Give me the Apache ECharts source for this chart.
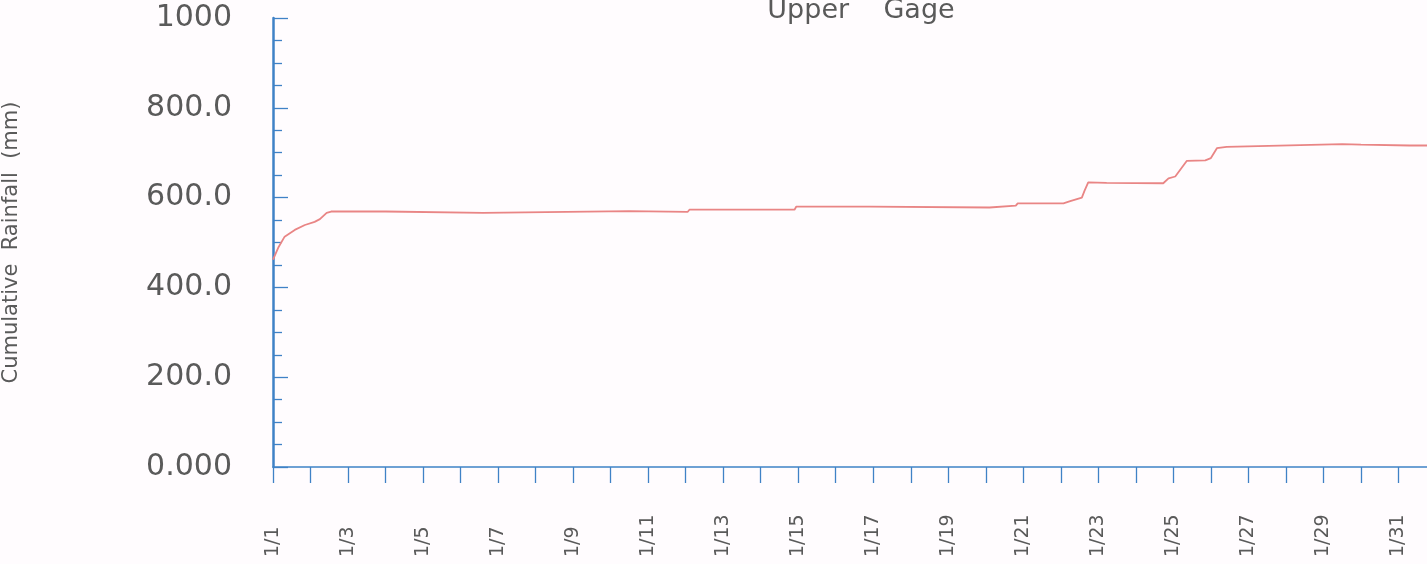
<!DOCTYPE html>
<html>
<head>
<meta charset="utf-8">
<script src="https://cdn.jsdelivr.net/npm/echarts@6/dist/echarts.min.js"></script>
<style>
  html, body { margin: 0; padding: 0; background: #fffcfe; }
  #chart { width: 1427px; height: 564px; }
</style>
</head>
<body>
<div id="chart"></div>
<script>
// Day offset from 1/1 (0 = 1/1) and cumulative rainfall (mm)
const days = [0.0, 0.15, 0.31, 0.58, 0.85, 1.11, 1.25, 1.43, 1.55, 3.0, 3.05, 5.6, 5.65, 9.5, 9.55,
  11.05, 11.1, 13.9, 13.95, 15.9, 15.95, 19.1, 19.15, 19.8, 19.85, 21.07, 21.25, 21.56, 21.63,
  21.73, 22.22, 23.73, 23.87, 24.05, 24.36, 24.85, 25.0, 25.16, 25.42, 27.38, 28.5, 29.0, 30.3, 30.8];
const rainfall = [462, 490, 513, 528, 539, 546, 552, 566, 569, 569, 566, 566, 570, 570, 568,
  568, 573, 573, 580, 580, 578, 578, 582, 582, 587, 587, 592, 600, 615,
  634, 633, 632, 643, 647, 682, 683, 688, 710, 713, 717, 719, 718, 716, 716];

const dateLabels = ["1/1", "1/3", "1/5", "1/7", "1/9", "1/11", "1/13", "1/15", "1/17",
  "1/19", "1/21", "1/23", "1/25", "1/27", "1/29", "1/31"];
const yTickLabels = ["0.000", "200.0", "400.0", "600.0", "800.0", "1000"];

const titleText = "Upper    Gage";
const yAxisTitle = "Cumulative  Rainfall  (mm)";

const axisBlue = '#3f82c6';
const textGray = '#5a5a5a';

const chart = echarts.init(document.getElementById('chart'));
chart.setOption({
  backgroundColor: '#fffcfe',
  animation: false,
  title: {
    text: titleText,
    left: 856, top: -8,
    textAlign: 'center',
    textStyle: { fontFamily: 'DejaVu Sans', fontSize: 27, fontWeight: 'normal', color: textGray }
  },
  grid: { left: 273, right: -9, top: 18, bottom: 97, containLabel: false, outerBoundsMode: 'none' },
  xAxis: {
    type: 'value',
    min: 0, max: 31, interval: 1,
    splitLine: { show: false },
    axisLine: { lineStyle: { color: axisBlue, width: 1.5 } },
    axisTick: { show: true, inside: false, length: 16, lineStyle: { color: axisBlue, width: 1.3 } },
    axisLabel: {
      rotate: 90,
      align: 'left',
      margin: 90,
      fontFamily: 'DejaVu Sans',
      fontSize: 19,
      color: textGray,
      showMaxLabel: false,
      formatter: v => (v % 2 === 0 && dateLabels[v / 2] !== undefined) ? dateLabels[v / 2] : ''
    }
  },
  yAxis: {
    type: 'value',
    min: 0, max: 1000, interval: 200,
    name: yAxisTitle,
    nameLocation: 'middle',
    nameRotate: 90,
    nameGap: 251,
    nameTextStyle: { fontFamily: 'DejaVu Sans', fontSize: 21, color: textGray },
    splitLine: { show: false },
    axisLine: { show: true, lineStyle: { color: axisBlue, width: 2.5 } },
    axisTick: { show: true, inside: true, length: 15, lineStyle: { color: axisBlue, width: 1.3 } },
    minorTick: { show: true, splitNumber: 4, length: 9, lineStyle: { color: axisBlue, width: 1.3 } },
    axisLabel: {
      margin: 41,
      fontFamily: 'DejaVu Sans',
      fontSize: 30,
      color: textGray,
      formatter: v => yTickLabels[Math.round(v / 200)]
    }
  },
  series: [{
    type: 'line',
    showSymbol: false,
    data: days.map((d, i) => [d, rainfall[i]]),
    lineStyle: { color: '#e98585', width: 1.8 },
    itemStyle: { color: '#e98585' }
  }]
});
</script>
</body>
</html>
